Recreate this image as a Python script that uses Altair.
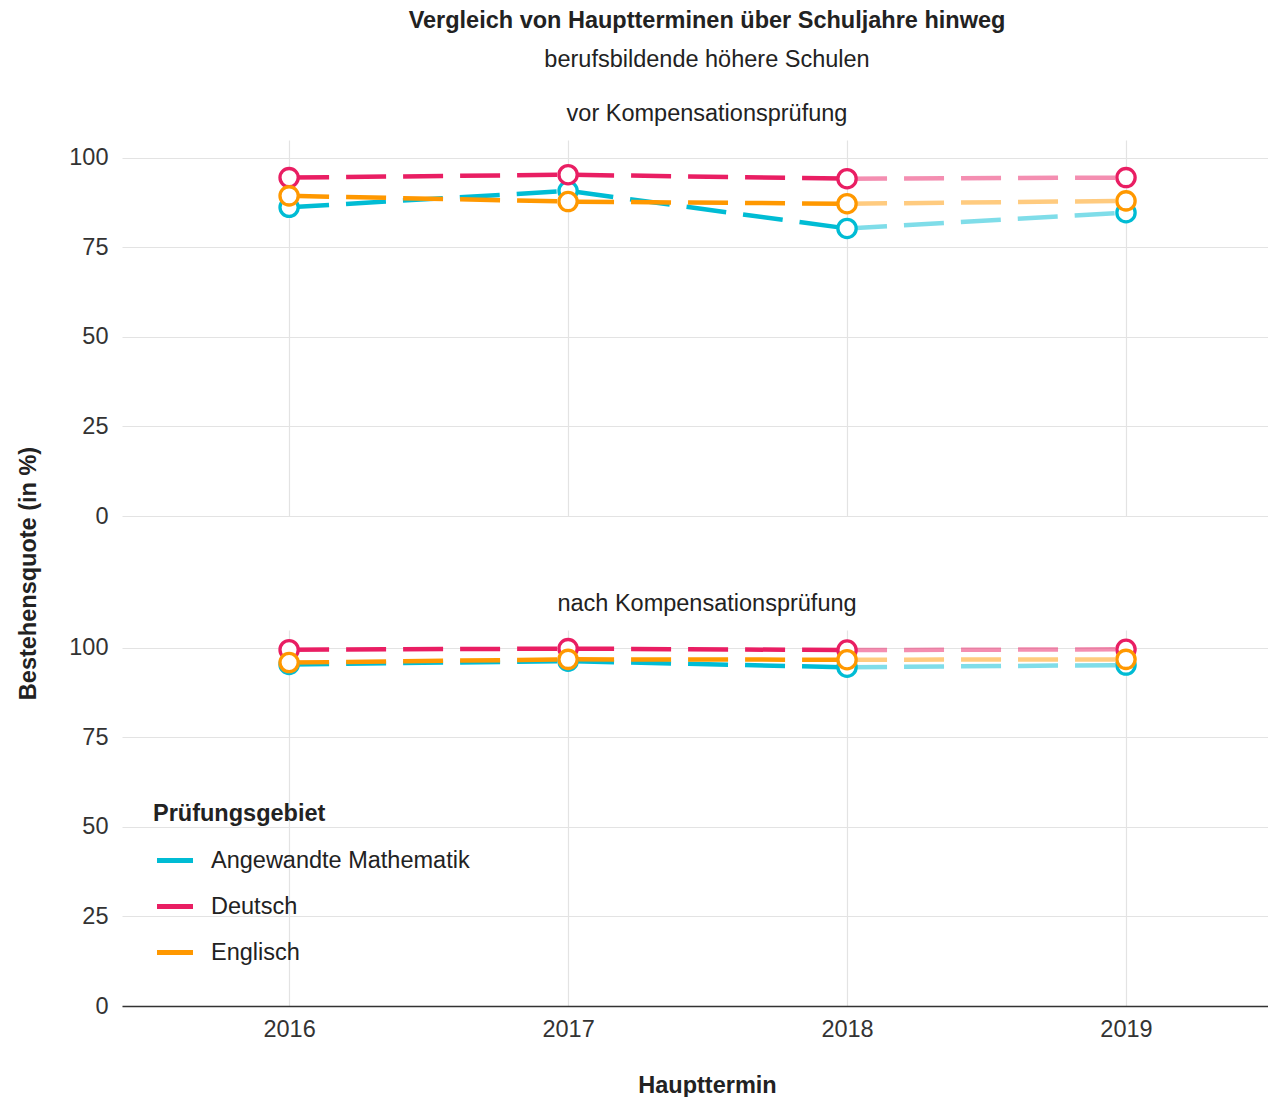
import altair as alt
import pandas as pd

years = [2016, 2017, 2018, 2019]
subjects = ["Angewandte Mathematik", "Deutsch", "Englisch"]
colors = ["#00BCD4", "#E91E63", "#FF9800"]
panel_titles = ["vor Kompensationsprüfung", "nach Kompensationsprüfung"]
y_ticks = [0, 25, 50, 75, 100]

vor_mathematik = [86.2, 90.8, 80.3, 84.7]
vor_deutsch = [94.5, 95.3, 94.2, 94.5]
vor_englisch = [89.4, 87.8, 87.2, 88.0]

nach_mathematik = [95.4, 96.3, 94.6, 95.2]
nach_deutsch = [99.5, 99.8, 99.4, 99.6]
nach_englisch = [95.9, 96.8, 96.7, 96.8]

FONT = "Liberation Sans"
FS = 23.5
TXT = "#222222"
GRID = "#E3E3E3"


def build_df(series):
    rows = []
    for s, vals in zip(subjects, series):
        for yr, v in zip(years, vals):
            rows.append({"Jahr": yr, "Fach": s, "Quote": v})
    return pd.DataFrame(rows)


x_scale = alt.Scale(domain=[2015.401, 2019.509], nice=False, zero=False)
y_scale = alt.Scale(domain=[0, 105], nice=False)
color_scale = alt.Scale(domain=subjects, range=colors)


def make_panel(series, header, bottom):
    df = build_df(series)
    full = df[df["Jahr"] <= 2018]
    light = df[df["Jahr"] >= 2018]

    if bottom:
        x_axis = alt.Axis(values=years, format="d", labels=True, domain=True,
                          domainColor="#333333", domainWidth=1.7, ticks=False,
                          grid=True, gridColor=GRID, gridWidth=1.2,
                          labelFontSize=FS, labelColor="#333333", labelPadding=11,
                          title="Haupttermin", titleFontSize=FS, titleFontWeight="bold",
                          titleColor=TXT, titlePadding=33, titleX=585)
        y_axis = alt.Axis(values=y_ticks, domain=False, ticks=False, grid=True,
                          gridColor=GRID, gridWidth=1.2, labelFontSize=FS,
                          labelColor="#333333", labelPadding=14, title=None)
    else:
        x_axis = alt.Axis(values=years, labels=False, domain=False, ticks=False,
                          grid=True, gridColor=GRID, gridWidth=1.2, title=None)
        y_axis = alt.Axis(values=y_ticks, domain=False, ticks=False, grid=True,
                          gridColor=GRID, gridWidth=1.2, labelFontSize=FS,
                          labelColor="#333333", labelPadding=14,
                          title="Bestehensquote (in %)", titleFontSize=FS,
                          titleFontWeight="bold", titleColor=TXT,
                          titleX=-94, titleY=433, titleAngle=270,
                          titleBaseline="middle", titleAlign="center")

    x_enc = alt.X("Jahr:Q", scale=x_scale, axis=x_axis)
    y_enc = alt.Y("Quote:Q", scale=y_scale, axis=y_axis)

    if bottom:
        legend = alt.Legend(title="Prüfungsgebiet", orient="none", legendX=31, legendY=172,
                            symbolType="stroke", symbolSize=1300, symbolStrokeWidth=5,
                            symbolDash=[1, 0], symbolOpacity=1, symbolOffset=1,
                            labelFontSize=FS, labelColor=TXT, labelOffset=15,
                            titleFontSize=FS, titleFontWeight="bold", titleColor=TXT,
                            titlePadding=14, rowPadding=13, labelLimit=500)
    else:
        legend = None

    lines = alt.Chart(full).mark_line(strokeDash=[40, 17], strokeWidth=4.5).encode(
        x=x_enc, y=y_enc,
        color=alt.Color("Fach:N", scale=color_scale, legend=legend, sort=subjects),
    )
    lines_light = alt.Chart(light).mark_line(strokeDash=[40, 17], strokeWidth=4.5, opacity=0.5).encode(
        x="Jahr:Q", y="Quote:Q",
        color=alt.Color("Fach:N", scale=color_scale, legend=None, sort=subjects),
    )
    points = alt.Chart(df).mark_point(shape="circle", filled=True, fill="white", opacity=1,
                                      size=333, strokeWidth=3.3).encode(
        x="Jahr:Q", y="Quote:Q",
        stroke=alt.Stroke("Fach:N", scale=color_scale, legend=None),
    )
    return alt.layer(lines, lines_light, points).properties(
        width=1146, height=376,
        title=alt.TitleParams(header, fontSize=FS, fontWeight="normal", color=TXT,
                              font=FONT, anchor="middle", frame="group",
                              baseline="alphabetic", offset=-4.5, dx=12),
    )


top = make_panel([vor_mathematik, vor_deutsch, vor_englisch], panel_titles[0], False)
bot = make_panel([nach_mathematik, nach_deutsch, nach_englisch], panel_titles[1], True)

chart = alt.vconcat(top, bot, spacing=114, bounds="flush").resolve_legend(
    color="independent"
).properties(
    title=alt.TitleParams("Vergleich von Hauptterminen über Schuljahre hinweg",
                          subtitle="berufsbildende höhere Schulen",
                          fontSize=FS, fontWeight="bold", color=TXT,
                          subtitleFontSize=FS, subtitleFontWeight="normal",
                          subtitleColor=TXT, subtitlePadding=15,
                          anchor="middle", frame="group", offset=31, dx=12),
    padding={"left": 8, "top": 1, "right": 0, "bottom": 0},
).configure(font=FONT).configure_view(stroke=None)

chart.save("out.html", embed_options={"renderer": "svg", "actions": False})
